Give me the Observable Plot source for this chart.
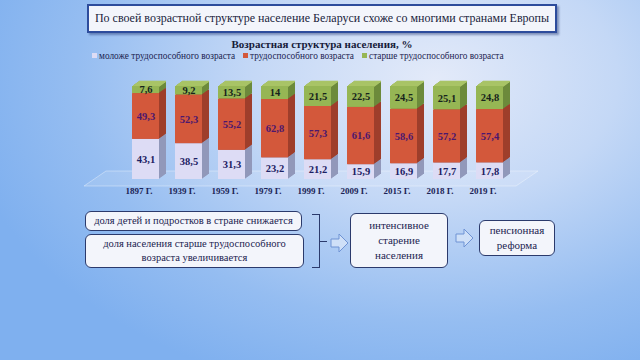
<!DOCTYPE html>
<html><head><meta charset="utf-8">
<script src="https://cdn.jsdelivr.net/npm/d3@7"></script>
<script src="https://cdn.jsdelivr.net/npm/@observablehq/plot@0.6"></script>
<style>
html,body{margin:0;padding:0;}
body{width:640px;height:360px;overflow:hidden;position:relative;
background:radial-gradient(ellipse 75% 90% at 68% 22%, #e3eaf9 0%, #c4d8f6 38%, #95bdf1 75%, #7fb0ef 100%);
font-family:"Liberation Serif","Times New Roman",serif;color:#1b2350;}
.abs{position:absolute;}
#title{left:87px;top:4px;width:466px;height:25px;background:#f3f5fb;border:2px solid #2d4c9c;white-space:nowrap;
box-shadow:2px 2px 2px rgba(30,50,110,.45);font-size:12px;line-height:25px;text-align:center;color:#1a1d3c;}
#ctitle{left:0;width:644px;top:38px;text-align:center;font-weight:bold;font-size:11px;color:#161b3a;white-space:nowrap;}
#legend{left:92px;top:51px;font-size:9.3px;color:#1b2350;white-space:nowrap;}
#legend span.m{display:inline-block;width:5px;height:5px;margin-right:2px;vertical-align:1px;}
#legend span.it{margin-right:8px;}
.box{position:absolute;background:#f3f5fb;border:1.5px solid #2b3a6c;border-radius:6px;
text-align:center;font-size:10.5px;color:#1b2350;box-sizing:border-box;display:flex;align-items:center;justify-content:center;line-height:14px;}
#chart{left:90px;top:60px;}
</style></head>
<body>
<div id="title" class="abs">По своей возрастной структуре население Беларуси схоже со многими странами Европы</div>
<div id="ctitle" class="abs">Возрастная структура населения, %</div>
<div id="legend" class="abs"></div>
<svg class="abs" style="left:0;top:0;" width="640" height="360"><polygon points="84,186 516,186 538,171 106,171" fill="rgba(255,255,255,0.12)" stroke="rgba(255,255,255,0.45)" stroke-width="0.8"/></svg>
<div id="chart" class="abs"></div>

<div class="box" style="left:85px;top:211px;width:217px;height:20px;">доля детей и подростков в стране снижается</div>
<div class="box" style="left:85px;top:234px;width:219px;height:34px;">доля населения старше трудоспособного<br>возраста увеличивается</div>
<div class="abs" style="left:312px;top:214px;width:7px;height:52px;border:1.5px solid #2b3a6c;border-left:none;"></div>
<div class="abs" style="left:320px;top:241px;width:7px;border-top:1.5px solid #2b3a6c;"></div>
<svg class="abs" style="left:330px;top:233px;" width="19" height="20"><polygon points="1,6 9,6 9,1 18,10 9,19 9,14 1,14" fill="#cfe0f8" stroke="#6f93d4" stroke-width="1"/></svg>
<div class="box" style="left:350px;top:213px;width:98px;height:55px;font-size:11px;line-height:15px;">интенсивное<br>старение<br>населения</div>
<svg class="abs" style="left:455px;top:228px;" width="19" height="20"><polygon points="1,6 9,6 9,1 18,10 9,19 9,14 1,14" fill="#cfe0f8" stroke="#6f93d4" stroke-width="1"/></svg>
<div class="box" style="left:479px;top:220px;width:76px;height:36px;font-size:11px;line-height:15px;">пенсионная<br>реформа</div>

<script>
const years = ["1897","1939","1959","1979","1999","2009","2015","2018","2019"];
const yearLabels = ["1897 Г.","1939 Г.","1959 Г.","1979 Г.","1999 Г.","2009 Г.","2015 Г.","2018 Г.","2019 Г."];
const young = [43.1,38.5,31.3,23.2,21.2,15.9,16.9,17.7,17.8];
const working = [49.3,52.3,55.2,62.8,57.3,61.6,58.6,57.2,57.4];
const old = [7.6,9.2,13.5,14,21.5,22.5,24.5,25.1,24.8];
const seriesNames = ["моложе трудоспособного возраста","трудоспособного возраста","старше трудоспособного возраста"];

const front = ["#dddcf5","#d3583b","#96b654"];
const side = ["#9198ba","#9e3e2b","#6c8a3b"];
const topC = "#a9c466";
const labelC = ["#1c2163","#4c176e","#16241c"];

const legend = document.getElementById("legend");
seriesNames.forEach((n,i)=>{
  const s = document.createElement("span"); s.className="it";
  s.innerHTML = `<span class="m" style="background:${front[i]}"></span>${n}`;
  legend.appendChild(s);
});

const series = [young, working, old];
const segs = [];
years.forEach((yr, j) => {
  let acc = 0;
  series.forEach((vals, k) => {
    const v = vals[j];
    segs.push({year: yr, k, v, y1: acc, y2: acc + v, label: String(v).replace(".", ",")});
    acc += v;
  });
});
const tops = years.map((yr, j) => ({year: yr, total: young[j] + working[j] + old[j]}));

const depth = 7, rise = 5;
const marks = [];
for (let i = depth; i >= 1; i--) {
  marks.push(Plot.barY(segs, {x: "year", y1: "y1", y2: "y2", fill: d => side[d.k], dx: i, dy: -i * rise / depth}));
}
for (let i = 1; i <= depth; i++) {
  marks.push(Plot.tickY(tops, {x: "year", y: "total", stroke: topC, strokeWidth: 1.6, dx: i, dy: -i * rise / depth}));
}
marks.push(Plot.barY(segs, {x: "year", y1: "y1", y2: "y2", fill: d => front[d.k]}));
marks.push(Plot.text(segs, {x: "year", y: d => (d.y1 + d.y2) / 2, text: "label", fill: d => labelC[d.k],
  fontSize: 10.5, fontWeight: "bold", fontFamily: "Liberation Serif, Times New Roman, serif"}));
marks.push(Plot.text(years, {x: d => d, y: 0, text: (d, i) => yearLabels[i], dy: 12, dx: -7,
  fontSize: 9, fontWeight: "bold", fill: "#1b2455", fontFamily: "Liberation Serif, Times New Roman, serif"}));

const chart = Plot.plot({
  width: 450, height: 140,
  marginLeft: 24.8, marginRight: 20.2, marginTop: 26, marginBottom: 21,
  x: {domain: years, padding: 0.375, axis: null},
  y: {domain: [0, 100], axis: null},
  color: {type: "identity"},
  style: {background: "transparent", overflow: "visible"},
  marks
});
document.getElementById("chart").appendChild(chart);
</script>
</body></html>
